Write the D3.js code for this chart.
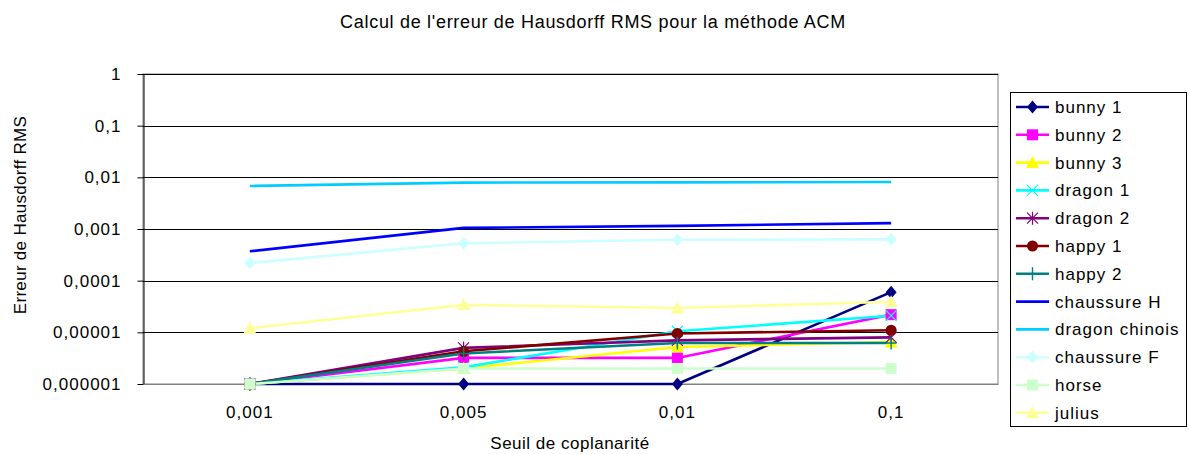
<!DOCTYPE html>
<html><head><meta charset="utf-8">
<script src="https://cdn.jsdelivr.net/npm/d3@7"></script>
<style>
body{margin:0;background:#fff;}
text{font-family:"Liberation Sans",Arial,sans-serif;fill:#000;}
</style></head>
<body>
<svg id="c" width="1189" height="454"></svg>
<script>
const categories = ["0,001","0,005","0,01","0,1"];
const yTickValues = [1e-6,1e-5,1e-4,1e-3,1e-2,1e-1,1];
const yTickLabels = ["0,000001","0,00001","0,0001","0,001","0,01","0,1","1"];
const seriesNames = ["bunny 1","bunny 2","bunny 3","dragon 1","dragon 2","happy 1","happy 2","chaussure H","dragon chinois","chaussure F","horse","julius"];
const bunny1 = [1e-6, 1e-6, 1e-6, 6e-5];
const bunny2 = [1e-6, 3.2e-6, 3.2e-6, 2.2e-5];
const bunny3 = [1e-6, 2e-6, 5.2e-6, 6.5e-6];
const dragon1 = [1e-6, 2.1e-6, 1.05e-5, 2.1e-5];
const dragon2 = [1e-6, 5e-6, 7e-6, 8e-6];
const happy1 = [1e-6, 4.3e-6, 9.5e-6, 1.1e-5];
const happy2 = [1e-6, 3.9e-6, 6.2e-6, 6.2e-6];
const chaussureH = [3.7e-4, 1.05e-3, 1.15e-3, 1.3e-3];
const dragonChinois = [6.8e-3, 7.9e-3, 8e-3, 8.1e-3];
const chaussureF = [2.2e-4, 5.3e-4, 6.2e-4, 6.3e-4];
const horse = [1e-6, 2e-6, 2e-6, 2e-6];
const julius = [1.2e-5, 3.4e-5, 2.95e-5, 3.9e-5];
const seriesValues = [bunny1,bunny2,bunny3,dragon1,dragon2,happy1,happy2,chaussureH,dragonChinois,chaussureF,horse,julius];
const seriesColors = ["#000080","#FF00FF","#FFFF00","#00FFFF","#800080","#800000","#008080","#0000FF","#00CCFF","#CCFFFF","#CCFFCC","#FFFF99"];
const seriesMarkers = ["diamond","square","triangle","x","asterisk","circle","plus","none","none","diamond","square","triangle"];

const svg = d3.select("#c");
const L=143, R=998, T=74, B=384;
const x = d3.scaleBand().domain(categories).range([L,R]);
const y = d3.scaleLog().domain([1e-6,1]).range([B,T]);
const cx = c => x(c) + x.bandwidth()/2;

// plot background & border
svg.append("rect").attr("x",L).attr("y",T).attr("width",R-L).attr("height",B-T)
  .attr("fill","#fff").attr("stroke","#808080").attr("stroke-width",1);
// gridlines
svg.append("g").selectAll("line").data(yTickValues.slice(1)).join("line")
  .attr("x1",L).attr("x2",R).attr("y1",d=>Math.round(y(d))+0.5).attr("y2",d=>Math.round(y(d))+0.5)
  .attr("stroke","#000").attr("stroke-width",1);

// y axis
const yAxis = d3.axisLeft(y).tickValues(yTickValues)
  .tickFormat((d,i)=>yTickLabels[i]).tickSize(6).tickPadding(16).tickSizeOuter(0);
const gy = svg.append("g").attr("transform",`translate(${L+0.5},0)`).call(yAxis);
gy.selectAll("text").style("font-size","17px").style("letter-spacing","1px");
gy.selectAll("line,path").attr("stroke","#000");

// x axis
const xAxis = d3.axisBottom(x).tickSize(0).tickPadding(22);
const gx = svg.append("g").attr("transform",`translate(0,${B})`).call(xAxis);
gx.select(".domain").attr("stroke","#808080");
gx.selectAll("text").style("font-size","17px").style("letter-spacing","1px");

// lines
const line = d3.line().x((d,i)=>cx(categories[i])).y(d=>y(d));
const gLines = svg.append("g");
seriesValues.forEach((vals,si)=>{
  gLines.append("path").attr("d",line(vals)).attr("fill","none")
    .attr("stroke",seriesColors[si]).attr("stroke-width",2.6).attr("stroke-linejoin","round");
});

function drawMarker(g, type, px, py, col){
  const s=5.5;
  if(type==="diamond"){
    g.append("path").attr("d",`M${px},${py-s-1}L${px+s},${py}L${px},${py+s+1}L${px-s},${py}Z`).attr("fill",col);
  } else if(type==="square"){
    g.append("rect").attr("x",px-s).attr("y",py-s).attr("width",2*s).attr("height",2*s).attr("fill",col);
  } else if(type==="triangle"){
    g.append("path").attr("d",`M${px},${py-s-1}L${px+s+1},${py+s}L${px-s-1},${py+s}Z`).attr("fill",col);
  } else if(type==="circle"){
    g.append("circle").attr("cx",px).attr("cy",py).attr("r",s).attr("fill",col);
  } else if(type==="x"){
    g.append("path").attr("d",`M${px-s},${py-s}L${px+s},${py+s}M${px-s},${py+s}L${px+s},${py-s}`).attr("stroke",col).attr("stroke-width",1.2);
  } else if(type==="asterisk"){
    g.append("path").attr("d",`M${px-s},${py-s}L${px+s},${py+s}M${px-s},${py+s}L${px+s},${py-s}M${px},${py-s-1}L${px},${py+s+1}`).attr("stroke",col).attr("stroke-width",1.2);
  } else if(type==="plus"){
    g.append("path").attr("d",`M${px-s},${py}L${px+s},${py}M${px},${py-s-1}L${px},${py+s+1}`).attr("stroke",col).attr("stroke-width",1.4);
  }
}
const gMarks = svg.append("g");
seriesValues.forEach((vals,si)=>{
  vals.forEach((v,i)=>drawMarker(gMarks, seriesMarkers[si], cx(categories[i]), y(v), seriesColors[si]));
});

// title and axis labels
svg.append("text").attr("x",593).attr("y",28).attr("text-anchor","middle")
  .style("font-size","18px").style("letter-spacing","0.7px").text("Calcul de l'erreur de Hausdorff RMS pour la méthode ACM");
svg.append("text").attr("x",570).attr("y",449).attr("text-anchor","middle")
  .style("font-size","17px").style("letter-spacing","0.5px").text("Seuil de coplanarité");
svg.append("text").attr("transform","translate(26,215) rotate(-90)").attr("text-anchor","middle")
  .style("font-size","17px").style("letter-spacing","0.3px").text("Erreur de Hausdorff RMS");

// legend
const lg = svg.append("g");
lg.append("rect").attr("x",1010.5).attr("y",92.5).attr("width",176).attr("height",334)
  .attr("fill","#fff").attr("stroke","#000").attr("stroke-width",1);
seriesNames.forEach((n,i)=>{
  const ly = 107 + i*27.8;
  lg.append("line").attr("x1",1016).attr("x2",1049).attr("y1",ly).attr("y2",ly)
    .attr("stroke",seriesColors[i]).attr("stroke-width",2.6);
  drawMarker(lg, seriesMarkers[i], 1032.5, ly, seriesColors[i]);
  lg.append("text").attr("x",1055).attr("y",ly+6).style("font-size","17px").style("letter-spacing","1px").text(n);
});
</script>
</body></html>
